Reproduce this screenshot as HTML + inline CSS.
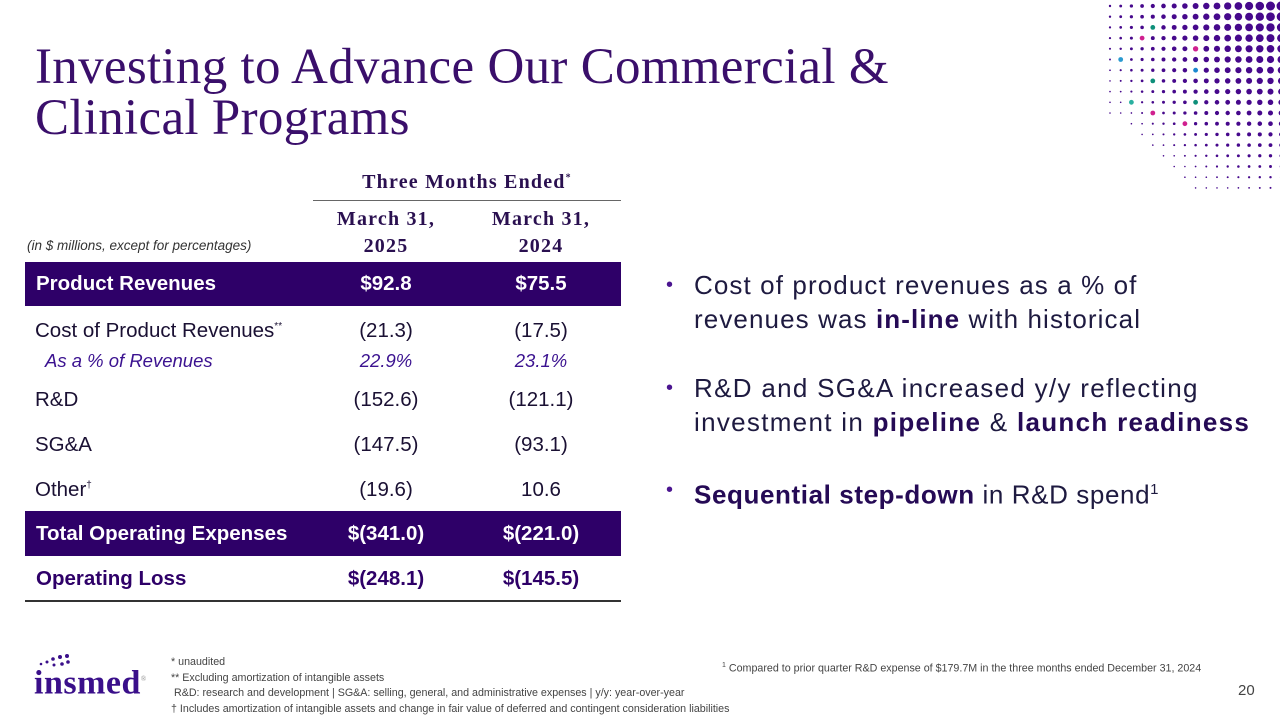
<!DOCTYPE html>
<html><head><meta charset="utf-8"><style>
*{margin:0;padding:0;box-sizing:border-box}
body{width:1280px;height:720px;background:#fff;position:relative;overflow:hidden;font-family:"Liberation Sans",sans-serif;color:#1a1033}
.a{position:absolute;white-space:nowrap}
.title{left:35px;top:42px;font-family:"Liberation Serif",serif;font-size:51px;line-height:51px;color:#3a0f6b;letter-spacing:0.3px}
.serif{font-family:"Liberation Serif",serif;font-weight:bold;color:#2a1050;letter-spacing:1.2px}
.c1{left:311px;width:150px;text-align:center}
.c2{left:466px;width:150px;text-align:center}
.row{font-size:20.5px;transform:translateY(-50%)}
.band{position:absolute;left:25px;width:596px;background:#2e0068}
.w{color:#fff;font-weight:bold}
.pur{color:#2e0068;font-weight:bold}
.it{font-style:italic;color:#3b1290;font-size:18.5px}
.bul{font-size:26px;line-height:34px;color:#1e1a40;letter-spacing:1.1px}
.bul b{color:#250a55}
.dot{position:absolute;left:-28px;top:0;color:#4b1590;font-size:20px}
.fn{font-size:10.7px;color:#444}
</style></head><body>
<svg class="a" style="left:1080px;top:0" width="200" height="200" id="dots"></svg>
<div class="a title">Investing to Advance Our Commercial &amp;<br>Clinical Programs</div>

<div class="a serif" style="left:313px;width:308px;text-align:center;top:171px;font-size:20px">Three Months Ended<sup style="font-size:10px">*</sup></div>
<div class="a" style="left:313px;top:200px;width:308px;height:1px;background:#666"></div>
<div class="a serif c1" style="top:206px;font-size:20px;line-height:27px">March 31,<br>2025</div>
<div class="a serif c2" style="top:206px;font-size:20px;line-height:27px">March 31,<br>2024</div>
<div class="a" style="left:27px;top:238px;font-size:13.5px;font-style:italic;color:#333">(in $ millions, except for percentages)</div>

<div class="band" style="top:262px;height:44px"></div>
<div class="band" style="top:511px;height:45px"></div>
<div class="a" style="left:25px;top:600px;width:596px;height:1.5px;background:#333"></div>

<div class="a row w" style="left:36px;top:284px">Product Revenues</div>
<div class="a row w c1" style="top:284px">$92.8</div>
<div class="a row w c2" style="top:284px">$75.5</div>

<div class="a row" style="left:35px;top:331px">Cost of Product Revenues<sup style="font-size:10px">**</sup></div>
<div class="a row c1" style="top:331px">(21.3)</div>
<div class="a row c2" style="top:331px">(17.5)</div>

<div class="a row it" style="left:45px;top:361px">As a % of Revenues</div>
<div class="a row it c1" style="top:361px">22.9%</div>
<div class="a row it c2" style="top:361px">23.1%</div>

<div class="a row" style="left:35px;top:400px">R&amp;D</div>
<div class="a row c1" style="top:400px">(152.6)</div>
<div class="a row c2" style="top:400px">(121.1)</div>

<div class="a row" style="left:35px;top:445px">SG&amp;A</div>
<div class="a row c1" style="top:445px">(147.5)</div>
<div class="a row c2" style="top:445px">(93.1)</div>

<div class="a row" style="left:35px;top:490px">Other<sup style="font-size:10px">†</sup></div>
<div class="a row c1" style="top:490px">(19.6)</div>
<div class="a row c2" style="top:490px">10.6</div>

<div class="a row w" style="left:36px;top:534px">Total Operating Expenses</div>
<div class="a row w c1" style="top:534px">$(341.0)</div>
<div class="a row w c2" style="top:534px">$(221.0)</div>

<div class="a row pur" style="left:36px;top:579px">Operating Loss</div>
<div class="a row pur c1" style="top:579px">$(248.1)</div>
<div class="a row pur c2" style="top:579px">$(145.5)</div>

<div class="a bul" style="left:694px;top:268px"><span class="dot" style="letter-spacing:0">•</span>Cost of product revenues as a % of<br>revenues was <b>in-line</b> with historical</div>
<div class="a bul" style="left:694px;top:371px;letter-spacing:1.3px"><span class="dot" style="letter-spacing:0">•</span>R&amp;D and SG&amp;A increased y/y reflecting<br>investment in <b>pipeline</b> &amp; <b>launch readiness</b></div>
<div class="a bul" style="left:694px;top:473px;letter-spacing:0.6px"><span class="dot" style="letter-spacing:0">•</span><b>Sequential step-down</b> in R&amp;D spend<sup style="font-size:15px">1</sup></div>

<div class="a" style="left:34px;top:664px;font-family:'Liberation Serif',serif;font-weight:bold;font-size:34px;color:#3a0f8a;line-height:30px;letter-spacing:0.5px">insmed<sup style="font-size:7px;color:#888;font-weight:normal">®</sup></div>
<svg class="a" style="left:38px;top:652px" width="40" height="16"><circle cx="3" cy="12" r="1.3" fill="#3a0f8a"/><circle cx="9" cy="10" r="1.5" fill="#3a0f8a"/><circle cx="15" cy="7" r="1.8" fill="#3a0f8a"/><circle cx="22" cy="5" r="2" fill="#3a0f8a"/><circle cx="29" cy="4" r="2" fill="#3a0f8a"/><circle cx="16" cy="13" r="1.5" fill="#3a0f8a"/><circle cx="24" cy="12" r="1.8" fill="#3a0f8a"/><circle cx="30" cy="10" r="1.8" fill="#3a0f8a"/></svg>
<div class="a fn" style="left:171px;top:655px;line-height:15.5px">* unaudited<br>** Excluding amortization of intangible assets<br>&nbsp;R&amp;D: research and development | SG&amp;A: selling, general, and administrative expenses | y/y: year-over-year<br>† Includes amortization of intangible assets and change in fair value of deferred and contingent consideration liabilities</div>
<div class="a fn" style="left:722px;top:662px"><sup style="font-size:7px">1</sup> Compared to prior quarter R&amp;D expense of $179.7M in the three months ended December 31, 2024</div>
<div class="a" style="left:1238px;top:682px;font-size:15px;color:#444">20</div>
<script>
const svg=document.getElementById('dots');
const special={"4,2":"#0e8f7a","3,3":"#d0208f","8,4":"#d0208f","1,5":"#2a9ad0","8,6":"#1a88d0","4,7":"#0e8f7a","2,9":"#2ab0a0","8,9":"#0e8f7a","4,10":"#d0208f","7,11":"#d0208f"};
for(let r=0;r<18;r++){for(let c=0;c<17;c++){
 const x=30+c*10.7, y=6+r*10.7;
 const ax=1080+x, d=Math.hypot(1300-ax,y+10);
 if(r>10 && (x-30) < (r-10)*11) continue;
 let rad=5.2-d*0.021; if(rad<0.8) rad=0.8;
 const k=c+","+r;
 const el=document.createElementNS('http://www.w3.org/2000/svg','circle');
 
 
 el.setAttribute('cx',x);el.setAttribute('cy',y);el.setAttribute('r',special[k]?Math.max(rad,2.4):rad);
 el.setAttribute('fill',special[k]||'#46088c');
 svg.appendChild(el);
}}
</script>
</body></html>
